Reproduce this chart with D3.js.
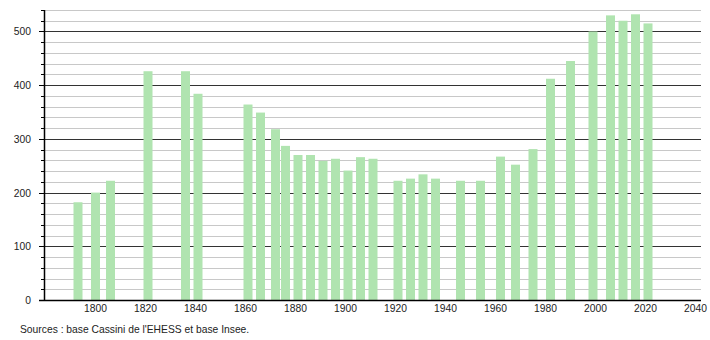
<!DOCTYPE html>
<html>
<head>
<meta charset="utf-8">
<script src="https://cdn.jsdelivr.net/npm/d3@7"></script>
<style>
  body { margin: 0; background: #fff; }
  svg text { font-family: "Liberation Sans", Arial, sans-serif; fill: #222; }
</style>
</head>
<body>
<svg id="chart" width="710" height="340"></svg>
<script>
// census years and population
let annees = [1793, 1800, 1806, 1821, 1836, 1841, 1861, 1866, 1872, 1876, 1881, 1886,
    1891, 1896, 1901, 1906, 1911, 1921, 1926, 1931, 1936, 1946, 1954, 1962, 1968,
    1975, 1982, 1990, 1999, 2006, 2011, 2016, 2021];
let population = [182, 200, 222, 426, 426, 384, 364, 349, 318, 287, 270, 270,
    259, 263, 241, 266, 263, 222, 226, 234, 226, 222, 222, 267, 252,
    281, 412, 445, 500, 530, 520, 532, 515];
let xTicks = [1800, 1820, 1840, 1860, 1880, 1900, 1920, 1940, 1960, 1980, 2000, 2020, 2040];
let yTicks = [0, 100, 200, 300, 400, 500];
let source = "Sources : base Cassini de l'EHESS et base Insee.";

let svg = d3.select("#chart");
let plotLeft = 44, plotRight = 701, plotTop = 10, plotBottom = 300;
let fontSize = 10.3;

let x = d3.scaleLinear()
    .domain([1780, 2042])
    .range([45.5, 700.5]);

let y = d3.scaleLinear()
    .domain([0, 540])
    .range([plotBottom, plotTop]);

// grid: light every 20, dark every 100
let minor = d3.range(20, 541, 20).filter(d => d % 100 !== 0);
svg.append("g").selectAll("line")
    .data(minor)
    .enter().append("line")
    .attr("x1", plotLeft).attr("x2", plotRight)
    .attr("y1", d => Math.round(y(d)) + 0.5)
    .attr("y2", d => Math.round(y(d)) + 0.5)
    .attr("stroke", "#c8c8c8");

svg.append("g").selectAll("line")
    .data(yTicks.filter(d => d > 0))
    .enter().append("line")
    .attr("x1", plotLeft).attr("x2", plotRight)
    .attr("y1", d => Math.round(y(d)) + 0.5)
    .attr("y2", d => Math.round(y(d)) + 0.5)
    .attr("stroke", "#333");

// bars
let barW = 9;
svg.append("g").selectAll("rect")
    .data(annees)
    .enter().append("rect")
    .attr("x", (d) => x(d) - barW / 2)
    .attr("y", (d, i) => y(population[i]))
    .attr("width", barW)
    .attr("height", (d, i) => plotBottom - y(population[i]))
    .attr("fill", "#b0e4b0");

// y axis with major and minor ticks
let yAxis = svg.append("g");
yAxis.append("line")
    .attr("x1", plotLeft + 0.5).attr("x2", plotLeft + 0.5)
    .attr("y1", plotTop).attr("y2", plotBottom)
    .attr("stroke", "#000").attr("stroke-width", 1.5);
yAxis.selectAll(".minor")
    .data(minor)
    .enter().append("line")
    .attr("x1", plotLeft - 3).attr("x2", plotLeft)
    .attr("y1", d => Math.round(y(d)) + 0.5)
    .attr("y2", d => Math.round(y(d)) + 0.5)
    .attr("stroke", "#000");
yAxis.selectAll(".major")
    .data(yTicks)
    .enter().append("line")
    .attr("x1", plotLeft - 5).attr("x2", plotLeft)
    .attr("y1", d => Math.round(y(d)) + 0.5)
    .attr("y2", d => Math.round(y(d)) + 0.5)
    .attr("stroke", "#000");
yAxis.selectAll("text")
    .data(yTicks)
    .enter().append("text")
    .attr("x", 31)
    .attr("y", d => y(d) + 4)
    .attr("text-anchor", "end")
    .attr("font-size", fontSize)
    .text(d => d);

// x axis
svg.append("line")
    .attr("x1", plotLeft - 5).attr("x2", plotRight)
    .attr("y1", plotBottom + 0.5).attr("y2", plotBottom + 0.5)
    .attr("stroke", "#000").attr("stroke-width", 1.5);
svg.append("g").selectAll("text")
    .data(xTicks)
    .enter().append("text")
    .attr("x", d => x(d))
    .attr("y", 312)
    .attr("text-anchor", "middle")
    .attr("font-size", fontSize)
    .text(d => d);

svg.append("text")
    .attr("x", 20)
    .attr("y", 333)
    .attr("font-size", fontSize)
    .text(source);
</script>
</body>
</html>
